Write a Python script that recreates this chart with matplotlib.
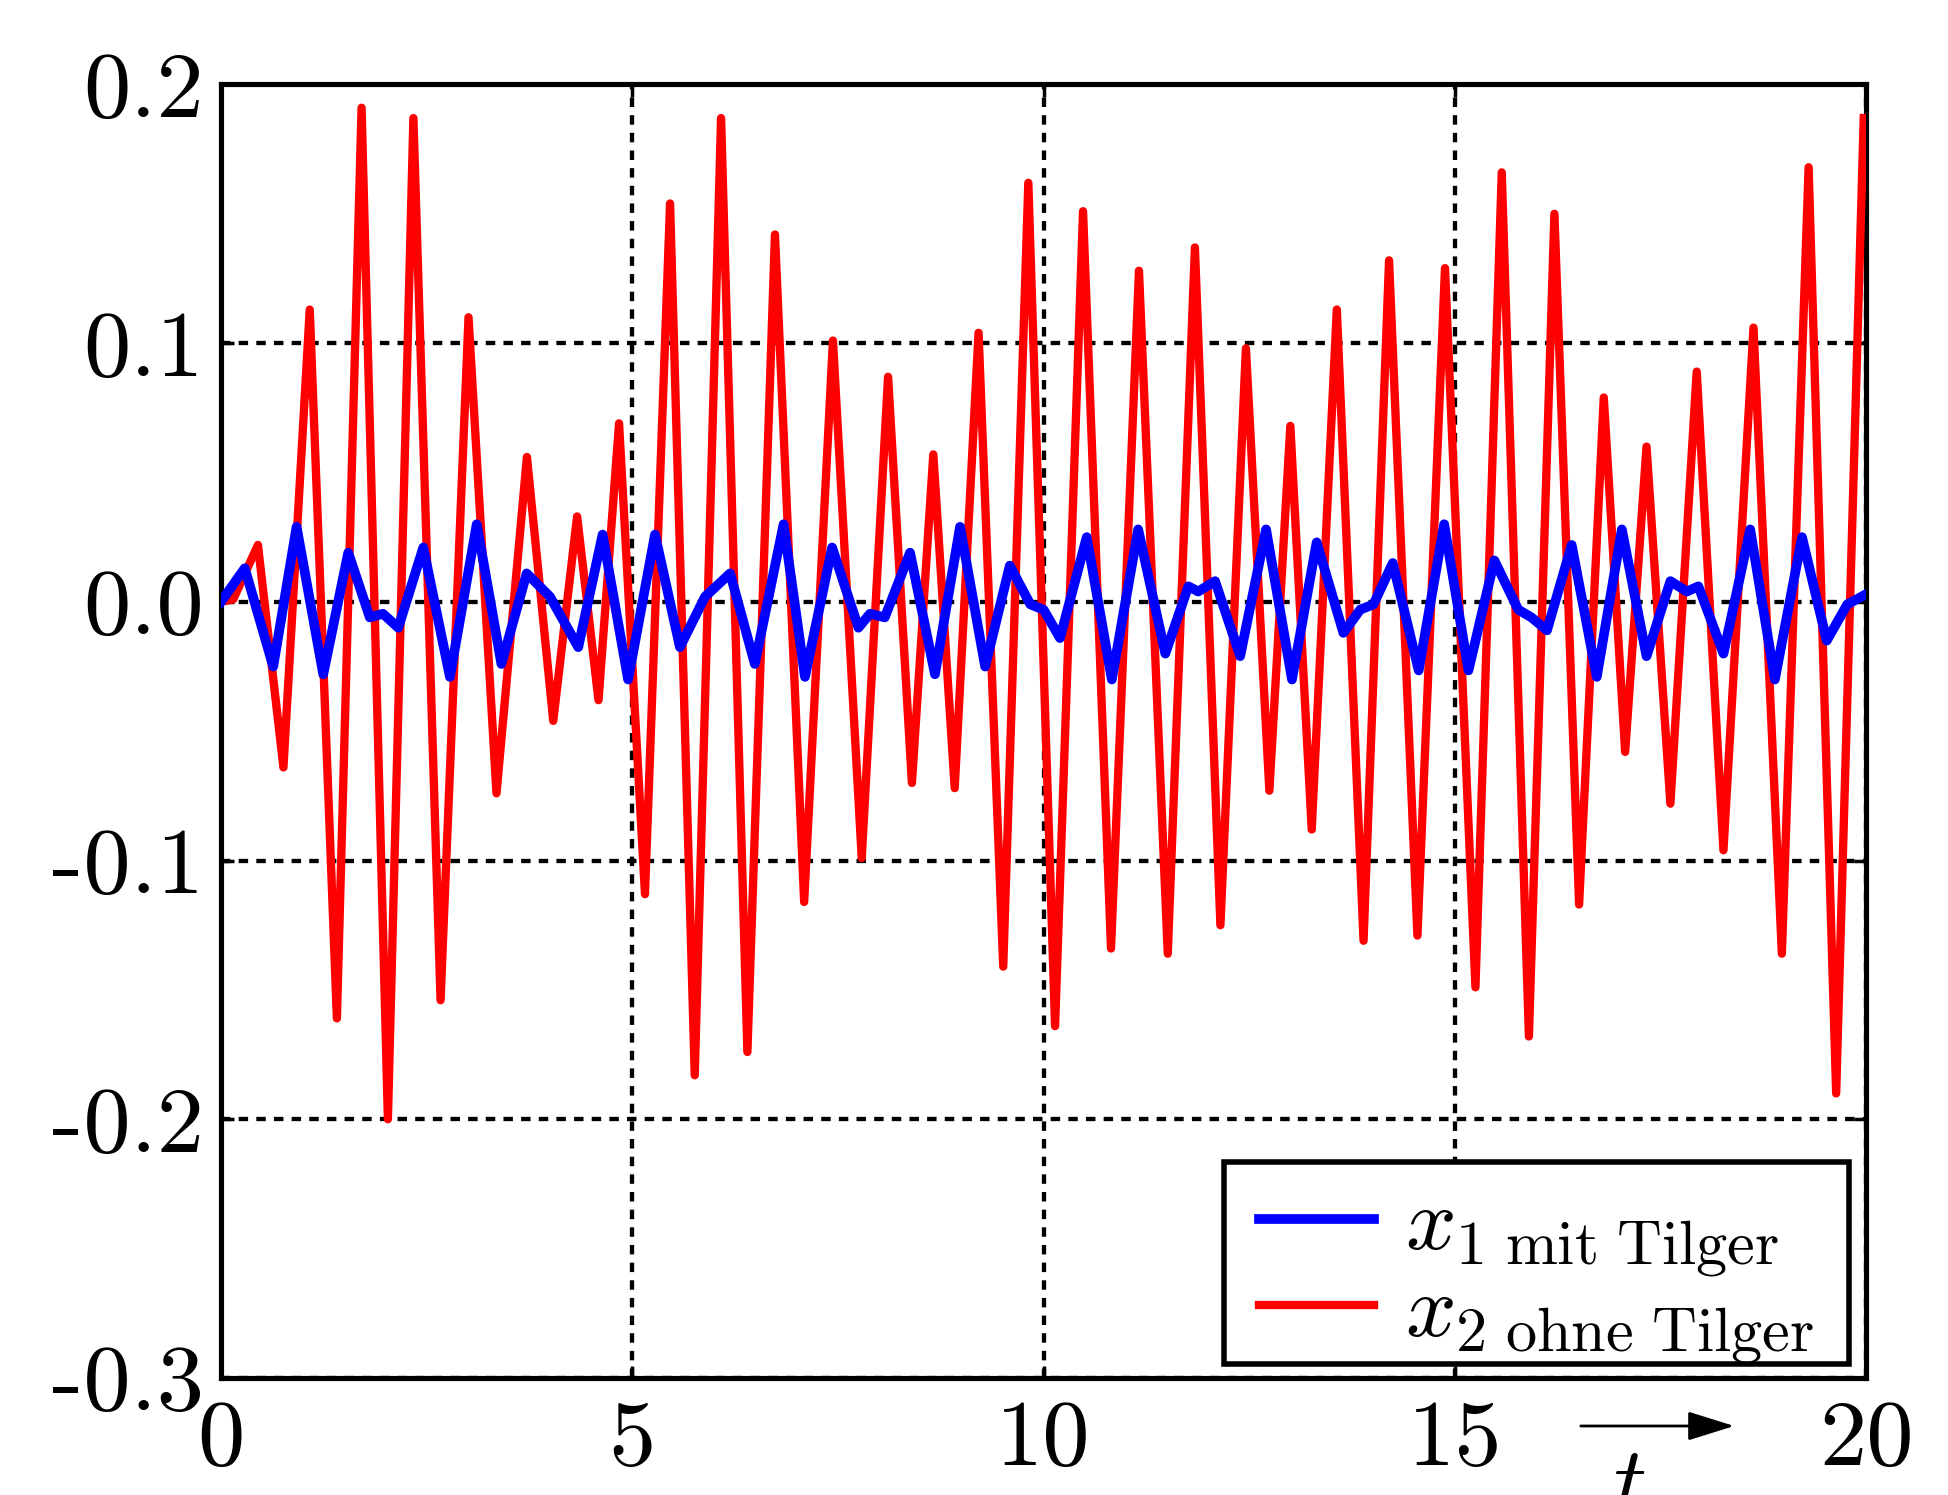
import numpy as np
import matplotlib
matplotlib.use("Agg")
import matplotlib.pyplot as plt
from matplotlib.patches import Rectangle

plt.rcParams["font.family"] = "cmr10"
plt.rcParams["mathtext.fontset"] = "cm"
plt.rcParams["axes.unicode_minus"] = False

# x1 (with absorber) - extrema
t_x1 = [0.0, 0.29, 0.636, 0.92, 1.244, 1.548, 1.81, 1.97, 2.156, 2.46, 2.784, 3.11, 3.41,
        3.717, 4.0, 4.344, 4.64, 4.95, 5.277, 5.58, 5.885, 6.19, 6.49, 6.84, 7.10, 7.43,
        7.75, 7.89, 8.07, 8.377, 8.68, 8.985, 9.29, 9.59, 9.84, 10.0, 10.2, 10.525, 10.83,
        11.15, 11.48, 11.76, 11.88, 12.085, 12.39, 12.705, 13.02, 13.32, 13.645, 13.85,
        14.01, 14.245, 14.56, 14.87, 15.165, 15.48, 15.77, 15.93, 16.12, 16.42, 16.725,
        17.03, 17.33, 17.62, 17.82, 17.96, 18.265, 18.59, 18.89, 19.22, 19.52, 19.77, 20.0]
x1 = [0.0, 0.013, -0.025, 0.029, -0.028, 0.019, -0.006, -0.0046, -0.010, 0.021, -0.029,
      0.030, -0.024, 0.011, 0.002, -0.0175, 0.026, -0.030, 0.026, -0.0175, 0.002, 0.011,
      -0.024, 0.030, -0.029, 0.021, -0.010, -0.0046, -0.006, 0.019, -0.028, 0.029, -0.025,
      0.014, -0.001, -0.003, -0.014, 0.025, -0.030, 0.028, -0.020, 0.006, 0.004, 0.008,
      -0.021, 0.028, -0.030, 0.023, -0.012, -0.003, -0.001, 0.015, -0.0265, 0.030,
      -0.0265, 0.016, -0.003, -0.006, -0.011, 0.022, -0.029, 0.028, -0.021, 0.008, 0.004,
      0.006, -0.020, 0.028, -0.030, 0.025, -0.015, -0.001, 0.003]

# x2 (without absorber)
t_x2 = [0.0, 0.15, 0.45, 0.76, 1.08, 1.41, 1.71, 2.03, 2.34, 2.67, 3.01, 3.35, 3.72, 4.04,
        4.33, 4.59, 4.84, 5.155, 5.46, 5.76, 6.08, 6.40, 6.735, 7.09, 7.44, 7.79, 8.11,
        8.40, 8.66, 8.92, 9.21, 9.51, 9.815, 10.14, 10.48, 10.82, 11.16, 11.51, 11.84,
        12.15, 12.46, 12.745, 13.0, 13.26, 13.565, 13.89, 14.2, 14.545, 14.88, 15.25,
        15.57, 15.9, 16.21, 16.51, 16.81, 17.07, 17.33, 17.62, 17.94, 18.265, 18.63,
        18.975, 19.3, 19.635, 19.97]
x2 = [0.0, 0.001, 0.022, -0.064, 0.113, -0.161, 0.191, -0.200, 0.187, -0.154, 0.110, -0.074,
      0.056, -0.046, 0.033, -0.038, 0.069, -0.113, 0.154, -0.183, 0.187, -0.174, 0.142,
      -0.116, 0.101, -0.099, 0.087, -0.070, 0.057, -0.072, 0.104, -0.141, 0.162, -0.164,
      0.151, -0.134, 0.128, -0.136, 0.137, -0.125, 0.098, -0.073, 0.068, -0.088, 0.113,
      -0.131, 0.132, -0.129, 0.129, -0.149, 0.166, -0.168, 0.150, -0.117, 0.079, -0.058,
      0.060, -0.078, 0.089, -0.096, 0.106, -0.136, 0.168, -0.190, 0.187]

xticks = [0, 5, 10, 15, 20]
xticklabels = ["0", "5", "10", "15", "20"]
yticks = [-0.3, -0.2, -0.1, 0.0, 0.1, 0.2]
yticklabels = ["-0.3", "-0.2", "-0.1", "0.0", "0.1", "0.2"]
labels = [r"$x_{1\ \mathrm{mit\ Tilger}}$", r"$x_{2\ \mathrm{ohne\ Tilger}}$"]

fig = plt.figure(figsize=(19.48, 14.95), dpi=100)
ax = fig.add_axes([0.1134, 0.0783, 0.8446, 0.8652])

ax.plot(t_x2, x2, color="#ff0000", lw=6, solid_joinstyle="round", zorder=3, label=labels[1])
ax.plot(t_x1, x1, color="#0000ff", lw=7, solid_joinstyle="round", zorder=4, label=labels[0])

ax.set_xlim(0, 20)
ax.set_ylim(-0.3, 0.2)
ax.set_xticks(xticks)
ax.set_xticklabels(xticklabels)
ax.set_yticks(yticks)
ax.set_yticklabels(yticklabels)
ax.grid(True, color="k", linestyle=(0, (2.2, 1.9)), lw=3.1, zorder=1)
ax.set_axisbelow(True)
ax.tick_params(direction="in", top=True, right=True, length=9, width=2.5, labelsize=68)
ax.tick_params(axis="x", pad=16)
ax.tick_params(axis="y", pad=12)
for s in ax.spines.values():
    s.set_linewidth(3.7)

# legend: own frame box, entries without frame on top of it
ax.add_patch(Rectangle((0.6097, 0.0108), 0.38, 0.1562, transform=ax.transAxes,
                       facecolor="white", edgecolor="k", lw=4, zorder=5))
h, l = ax.get_legend_handles_labels()
leg = ax.legend(h[::-1], l[::-1], loc="lower right", bbox_to_anchor=(0.9684, 0.0093),
                fontsize=64, frameon=False, handlelength=1.3, handletextpad=0.35,
                borderpad=0, labelspacing=-0.06, borderaxespad=0)
leg.set_zorder(6)

# time arrow under the axis
ax.annotate("", xy=(1737 / 1948, 1 - 1426 / 1495), xytext=(1578 / 1948, 1 - 1426 / 1495),
            xycoords="figure fraction", textcoords="figure fraction",
            arrowprops=dict(arrowstyle="-|>,head_length=0.4,head_width=0.125",
                            mutation_scale=72, lw=2, color="k"))
fig.text(1629 / 1948, -0.011, "$t$", fontsize=66, ha="center", va="baseline")

fig.savefig("out.png", dpi=100)
